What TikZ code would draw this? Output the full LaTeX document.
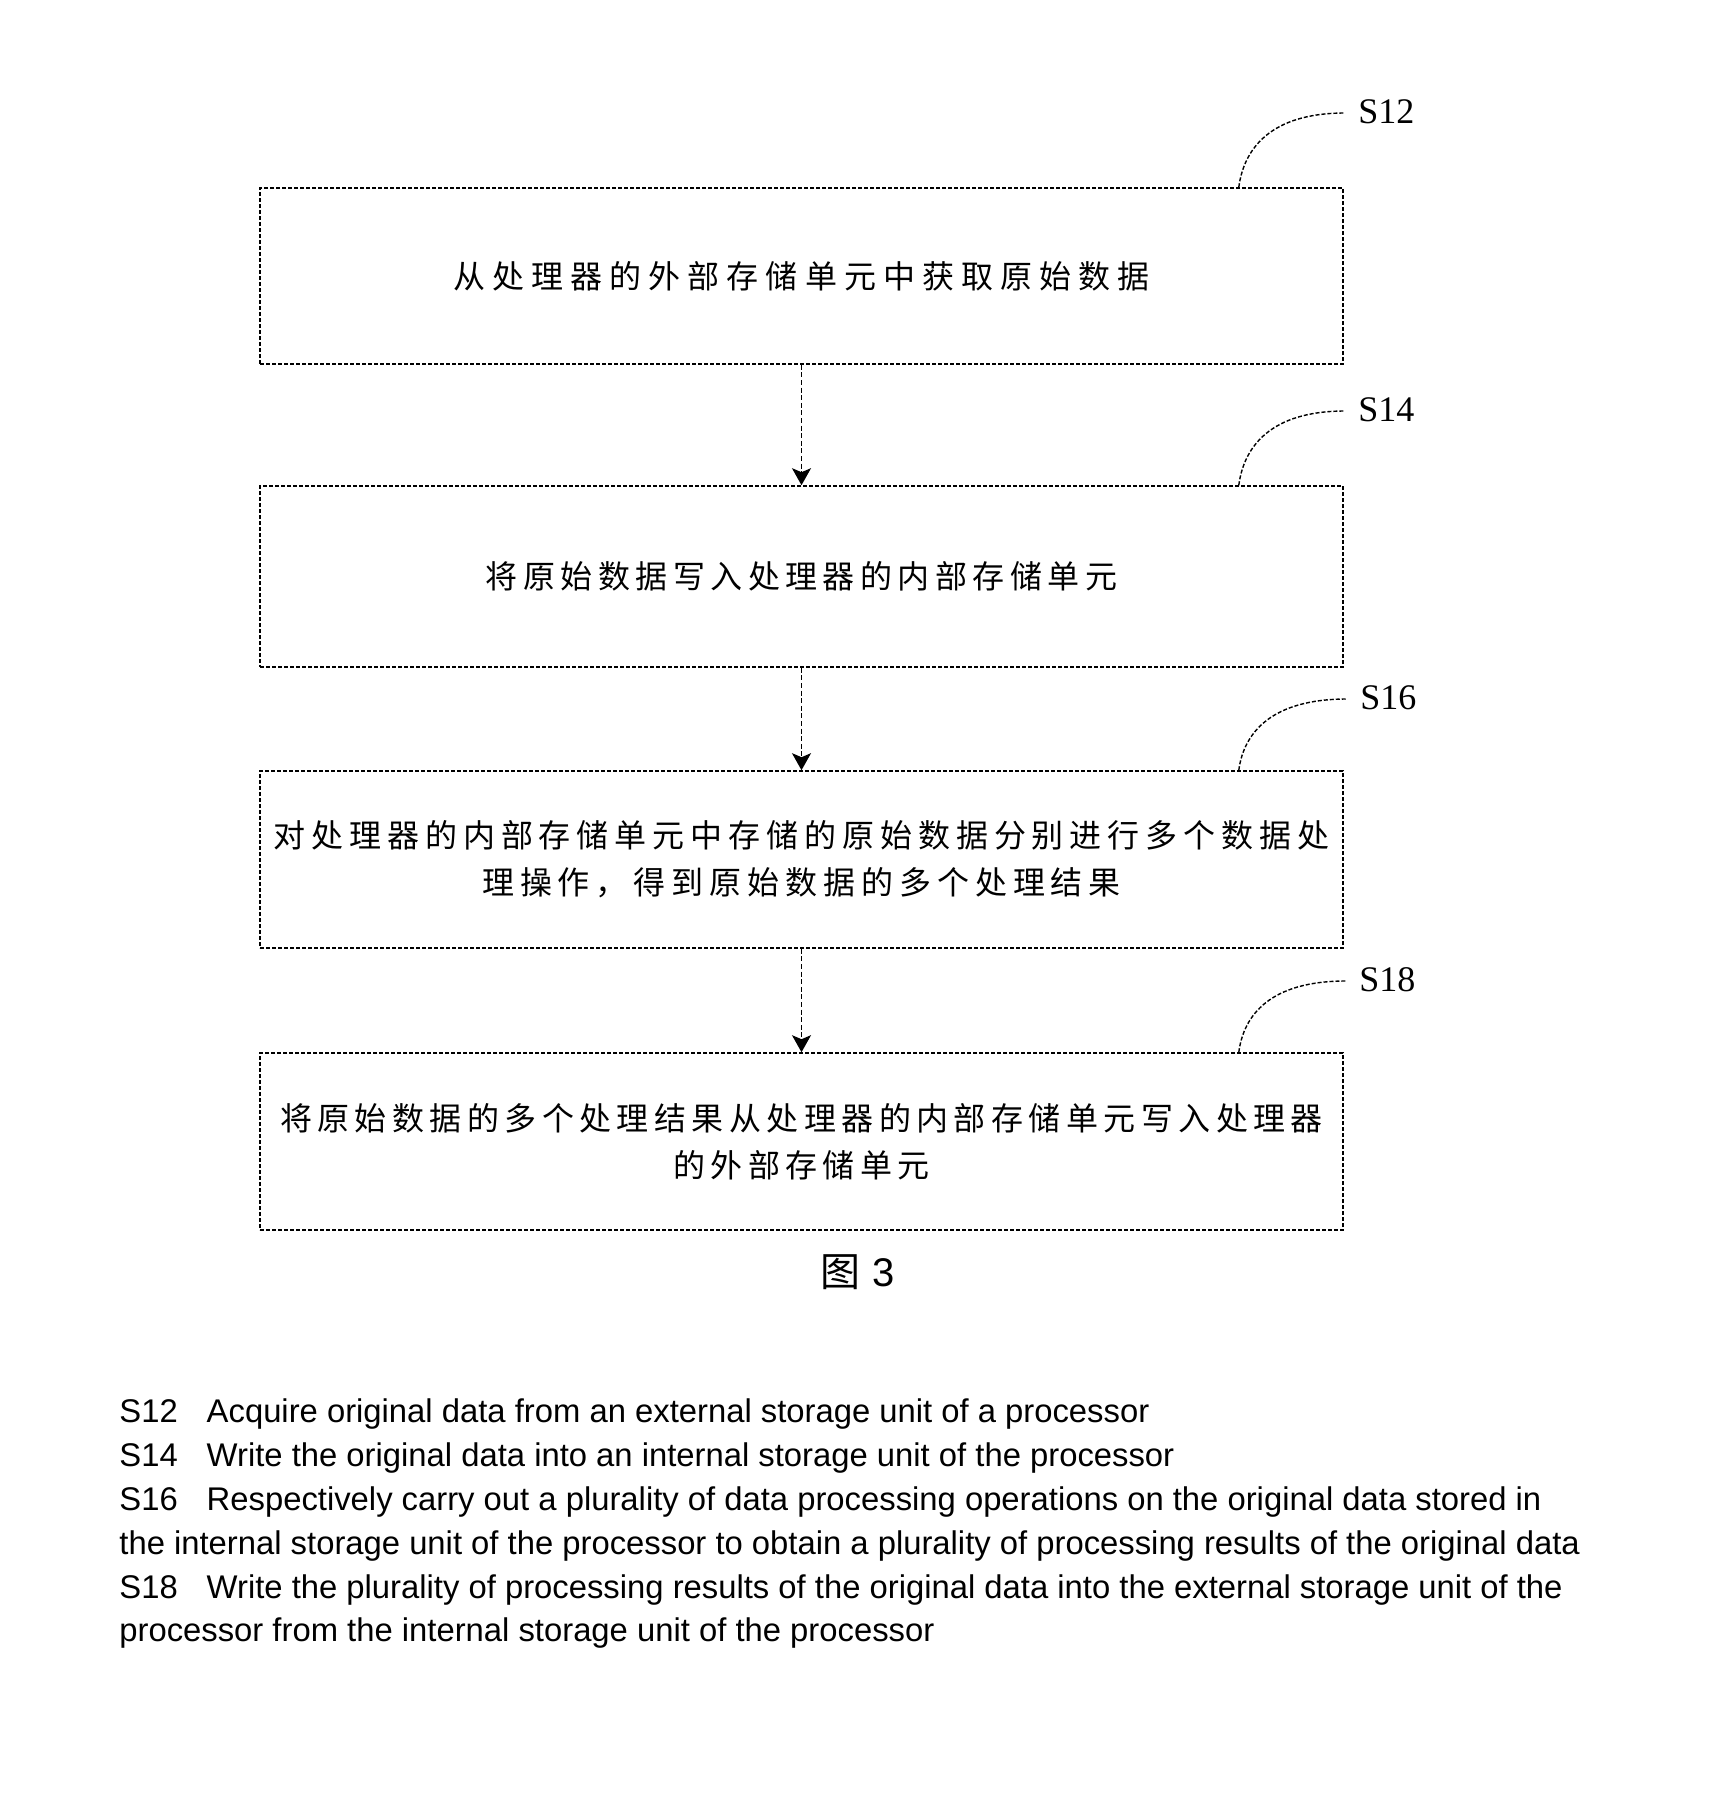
\documentclass[tikz,border=0pt]{standalone}
\usepackage{fontspec}
\setmainfont{Liberation Serif}
\newfontfamily\cjkwide[LetterSpace=17]{Noto Sans CJK SC}
\newfontfamily\cjkwidec[LetterSpace=18.5]{Noto Sans CJK SC}
\newfontfamily\cjkwider[LetterSpace=22]{Noto Sans CJK SC}
\newfontfamily\cjk{Noto Sans CJK SC}
\newfontfamily\arialf{Liberation Sans}
\usetikzlibrary{arrows.meta,calc}
\begin{document}
\begin{tikzpicture}[x=0.5pt,y=-0.5pt,
  stepbox/.style={draw, line width=0.8pt, dash pattern=on 2pt off 1pt,
    minimum width=541.5pt, text width=535pt, inner sep=0pt, align=center,
    font=\cjkwide\fontsize{16pt}{23.5pt}\selectfont},
  flow/.style={draw, line width=0.8pt, dash pattern=on 2.5pt off 1.3pt,
    -{Stealth[length=8.5pt,width=9.5pt,inset=2pt]}},
  leader/.style={draw, line width=0.7pt, dash pattern=on 2pt off 1pt},
  steplabel/.style={anchor=west, inner sep=0pt, font=\fontsize{18pt}{20pt}\selectfont},
  legend/.style={anchor=base west, inner sep=0pt, font=\arialf\fontsize{16.4pt}{22pt}\selectfont}
]
\useasboundingbox (0,0) rectangle (1711,1810);
\fill[white] (0,0) rectangle (1711,1810);

\node[stepbox, minimum height=88pt, font=\cjkwider\fontsize{16pt}{23.5pt}\selectfont] (b1) at (801.5,276) {从处理器的外部存储单元中获取原始数据};
\node[stepbox, minimum height=90.5pt] (b2) at (801.5,576.5) {将原始数据写入处理器的内部存储单元};
\node[stepbox, minimum height=88.5pt, font=\cjkwidec\fontsize{16pt}{23.5pt}\selectfont] (b3) at (801.5,859.5) {对处理器的内部存储单元中存储的原始数据分别进行多个数据处\\理操作，得到原始数据的多个处理结果};
\node[stepbox, minimum height=88.5pt] (b4) at (801.5,1141.5) {将原始数据的多个处理结果从处理器的内部存储单元写入处理器\\的外部存储单元};

\draw[flow] (b1.south) -- (b2.north);
\draw[flow] (b2.south) -- (b3.north);
\draw[flow] (b3.south) -- (b4.north);

\node[steplabel] (s12) at (1358,112) {S12};
\node[steplabel] (s14) at (1358,410) {S14};
\node[steplabel] (s16) at (1360,698) {S16};
\node[steplabel] (s18) at (1359,980) {S18};

\foreach \b/\s in {b1/s12,b2/s14,b3/s16,b4/s18}{
  \coordinate (\b l) at ($(\b.north east)+(-105,0)$);
  \coordinate (\b e) at ($(\s.west)+(-13,1)$);
  \draw[leader] (\b l) .. controls +(5,-38) and +(-75,0) .. (\b e);
}

\node[inner sep=0pt] (fig) at (858,1272) {{\cjk\fontsize{20pt}{24pt}\selectfont 图}\hspace{6pt}{\arialf\fontsize{20pt}{24pt}\selectfont 3}};

\node[legend] (t1) at (119,1422) {S12\hspace{14.5pt}Acquire original data from an external storage unit of a processor};
\node[legend] (t2) at (119,1466) {S14\hspace{14.5pt}Write the original data into an internal storage unit of the processor};
\node[legend] (t3) at (119,1510) {S16\hspace{14.5pt}Respectively carry out a plurality of data processing operations on the original data stored in};
\node[legend] (t4) at (119,1554) {the internal storage unit of the processor to obtain a plurality of processing results of the original data};
\node[legend] (t5) at (119,1598) {S18\hspace{14.5pt}Write the plurality of processing results of the original data into the external storage unit of the};
\node[legend] (t6) at (119,1641) {processor from the internal storage unit of the processor};
\end{tikzpicture}
\end{document}
